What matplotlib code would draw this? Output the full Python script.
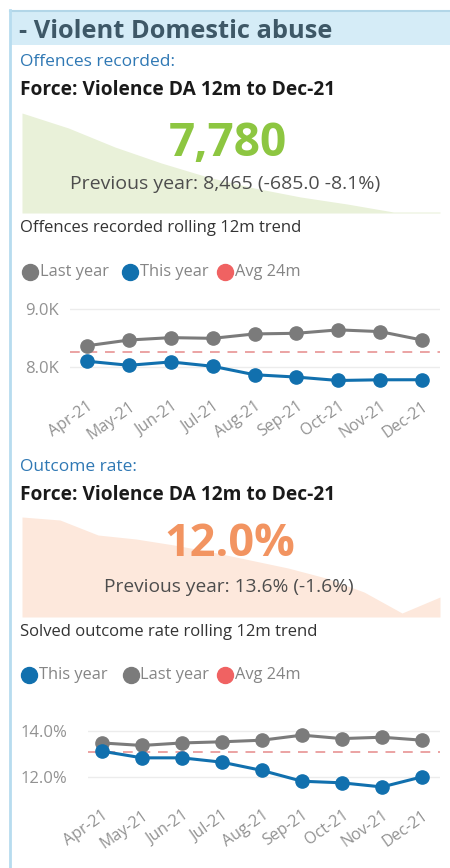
import matplotlib
matplotlib.use("Agg")
import matplotlib.pyplot as plt
from matplotlib.patches import Rectangle
import numpy as np

# ---------------- data ----------------
months = ["Apr-21", "May-21", "Jun-21", "Jul-21", "Aug-21", "Sep-21", "Oct-21", "Nov-21", "Dec-21"]

off_last_year = [8366, 8465, 8506, 8494, 8570, 8581, 8640, 8610, 8465]
off_this_year = [8099, 8029, 8087, 8012, 7866, 7826, 7767, 7779, 7780]
off_avg24 = 8250
off_ticks = [8000, 9000]
off_ticklabels = ["8.0K", "9.0K"]

out_this_year = [13.12, 12.83, 12.83, 12.64, 12.28, 11.81, 11.74, 11.56, 12.00]
out_last_year = [13.48, 13.37, 13.48, 13.53, 13.60, 13.82, 13.67, 13.73, 13.60]
out_avg24 = 13.09
out_ticks = [12.0, 14.0]
out_ticklabels = ["12.0%", "14.0%"]

spark_offences = [100, 85, 66, 50, 36, 25, 16, 9, 1, 1]
spark_outcome = [100, 97, 82, 78, 72, 65, 57, 49, 39, 25, 4, 20]

title = "- Violent Domestic abuse"
kpi1_value = "7,780"
kpi1_prev = "Previous year: 8,465 (-685.0 -8.1%)"
kpi2_value = "12.0%"
kpi2_prev = "Previous year: 13.6% (-1.6%)"

# ---------------- layout helpers ----------------
W, H = 450, 868
fig = plt.figure(figsize=(W / 100, H / 100), dpi=100)
fig.patch.set_facecolor("white")

def fx(x):
    return x / W

def fy(y):
    return 1 - y / H

def box(x0, y0, x1, y1):
    return [fx(x0), fy(y1), (x1 - x0) / W, (y1 - y0) / H]

FONT = ["Open Sans", "DejaVu Sans"]
GRAY_T = "#929292"
BLUE = "#1170ae"
GRAY = "#7b7b7b"
RED = "#f06262"

# frame decoration
bg = fig.add_axes([0, 0, 1, 1])
bg.set_xlim(0, W)
bg.set_ylim(H, 0)
bg.axis("off")
bg.add_patch(Rectangle((10, 10), W - 10, 35, facecolor="#d5ecf7", edgecolor="none"))
bg.plot([10, W], [11, 11], color="#b2d6e8", lw=1.5)
bg.plot([10, 10], [10, H], color="#b7dcef", lw=2)
bg.set_zorder(-2)

# ---------------- texts ----------------
fig.text(fx(19), fy(32), title, fontsize=18.3, fontweight="bold", color="#3e5867",
         family=FONT, va="center", ha="left")

def section(y_head, head, y_force):
    fig.text(fx(20), fy(y_head), head, fontsize=12.5, color="#2f78b4",
             family=FONT, va="center", ha="left")
    fig.text(fx(20), fy(y_force), "Force: Violence DA 12m to Dec-21", fontsize=13.8,
             fontweight="bold", color="#1a1a1a", family=FONT, va="center", ha="left")

section(62, "Offences recorded:", 90)
section(467, "Outcome rate:", 495)

# sparkline areas
def spark(vals, y0, y1, color):
    ax = fig.add_axes(box(22, y0, 440, y1))
    x = np.arange(len(vals))
    ax.fill_between(x, 0, vals, color=color, lw=0)
    ax.set_xlim(0, len(vals) - 1)
    ax.set_ylim(0, 100)
    ax.axis("off")
    ax.set_zorder(-1)
    return ax

spark(spark_offences, 113, 213, "#e9f1d9")
spark(spark_outcome, 517, 617, "#fde8dc")

fig.text(fx(228), fy(143), kpi1_value, fontsize=33, fontweight="bold", color="#8dc641",
         family=FONT, va="center", ha="center")
fig.text(fx(225), fy(184), kpi1_prev, fontsize=14, color="#4d4d4d",
         family=FONT, va="center", ha="center")
fig.text(fx(230), fy(545), kpi2_value, fontsize=32.5, fontweight="bold", color="#f29461",
         family=FONT, va="center", ha="center")
fig.text(fx(229), fy(587), kpi2_prev, fontsize=13.8, color="#4d4d4d",
         family=FONT, va="center", ha="center")

fig.text(fx(20), fy(228), "Offences recorded rolling 12m trend", fontsize=12, color="#333333",
         family=FONT, va="center", ha="left")
fig.text(fx(20), fy(632), "Solved outcome rate rolling 12m trend", fontsize=12, color="#333333",
         family=FONT, va="center", ha="left")

# legends (manual)
def legend(y, entries):
    for name, col, cx, tx in entries:
        bg.plot([cx], [y], marker="o", markersize=11.5, color=col, ls="none")
        bg.text(tx, y, name, fontsize=11.8, color="#858585", family=FONT,
                va="center", ha="left")

legend(272, [("Last year", GRAY, 30, 40), ("This year", BLUE, 130, 140), ("Avg 24m", RED, 225, 235)])
legend(675, [("This year", BLUE, 29, 39), ("Last year", GRAY, 131, 140), ("Avg 24m", RED, 225, 235)])

# ---------------- line charts ----------------
def line_chart(rect, series, avg, ylim, ticks, ticklabels, xlim, ypad):
    ax = fig.add_axes(rect)
    x = np.arange(len(months))
    ax.axhline(avg, color="#eba3a3", lw=1.4, dashes=(5, 4), zorder=1)
    for vals, col in series:
        ax.plot(x, vals, color=col, lw=2.2, marker="o", markersize=9.5, zorder=3)
    ax.set_ylim(*ylim)
    ax.set_xlim(*xlim)
    ax.set_yticks(ticks)
    ax.set_yticklabels(ticklabels)
    ax.grid(axis="y", color="#ececec", lw=1)
    ax.set_axisbelow(True)
    for s in ax.spines.values():
        s.set_visible(False)
    ax.tick_params(axis="both", length=0, colors=GRAY_T)
    ax.tick_params(axis="y", pad=ypad, labelsize=12)
    ax.set_xticks(x)
    ax.set_xticklabels(months, rotation=35, ha="right", va="top", rotation_mode="anchor",
                       family=FONT, fontsize=11.5)
    for t in ax.get_yticklabels():
        t.set_family(FONT)
    ax.tick_params(axis="x", pad=3)
    return ax

line_chart(box(70, 288, 440, 394),
           [(off_last_year, GRAY), (off_this_year, BLUE)],
           off_avg24, (7534, 9362), off_ticks, off_ticklabels, (-0.41, 8.43), 8)

line_chart(box(88, 712, 440, 803),
           [(out_last_year, GRAY), (out_this_year, BLUE)],
           out_avg24, (10.86, 14.83), out_ticks, out_ticklabels, (-0.35, 8.45), 15)

fig.savefig("out.png", dpi=100)
